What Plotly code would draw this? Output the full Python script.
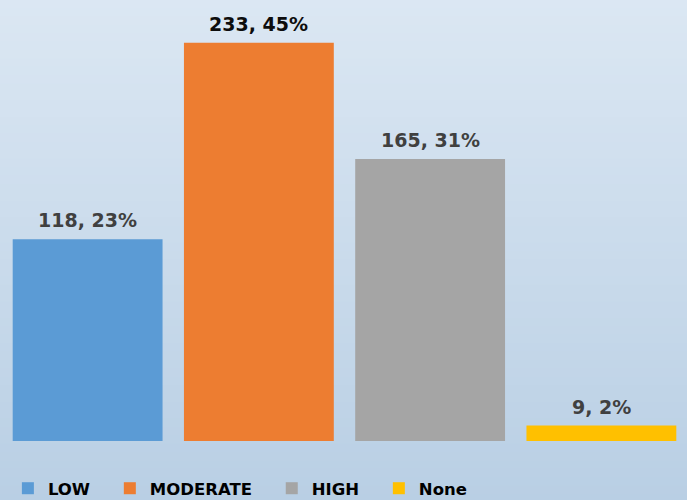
import plotly.graph_objects as go

categories = ["LOW", "MODERATE", "HIGH", "None"]
counts = [118, 233, 165, 9]
percents = [23, 45, 31, 2]
colors = ["#5b9bd5", "#ed7d31", "#a5a5a5", "#ffc000"]
label_colors = ["#404040", "#0d0d0d", "#404040", "#404040"]

PAD = "\u00a0\u00a0\u2009"
fig = go.Figure()
for i, (cat, c, p, col, lc) in enumerate(zip(categories, counts, percents, colors, label_colors)):
    pad = PAD if i < len(categories) - 1 else ""
    fig.add_trace(go.Bar(
        x=[cat], y=[c], name=cat + pad,
        marker=dict(color=col, line=dict(width=0)),
        hoverinfo="x+y",
    ))
    fig.add_annotation(
        x=cat, y=c, xref="x", yref="y",
        text=f"{c}, {p}%", showarrow=False,
        yanchor="middle", yshift=19,
        font=dict(family="DejaVu Sans", size=19, color=lc, weight="bold"),
    )

# gradient background
top = (219, 231, 243)
bot = (185, 207, 228)
n = 60
y0p, y1p = -0.14, 1.0
for i in range(n):
    t = i / (n - 1)
    r = round(top[0] + (bot[0] - top[0]) * t)
    g = round(top[1] + (bot[1] - top[1]) * t)
    b = round(top[2] + (bot[2] - top[2]) * t)
    ya = y1p - (y1p - y0p) * i / n
    yb = y1p - (y1p - y0p) * (i + 1) / n
    fig.add_shape(type="rect", xref="paper", yref="paper",
                  x0=-0.01, x1=1.01, y0=yb - 0.001, y1=ya + 0.001,
                  fillcolor=f"rgb({r},{g},{b})", line=dict(width=0), layer="below")

fig.update_layout(
    width=687, height=500,
    margin=dict(l=2, r=0, t=0, b=59, autoexpand=False),
    paper_bgcolor="rgb(185,207,228)",
    plot_bgcolor="rgba(0,0,0,0)",
    bargap=0.125,
    showlegend=True,
    legend=dict(orientation="h", x=0.0086, xanchor="left", y=-0.068, yanchor="top",
                font=dict(family="DejaVu Sans", size=16.5, color="#000000", weight="bold"),
                itemwidth=30, bgcolor="rgba(0,0,0,0)", traceorder="normal"),
    xaxis=dict(visible=False, range=[-0.5, 3.5]),
    yaxis=dict(visible=False, range=[0, 258]),
    font=dict(family="DejaVu Sans"),
)

fig.write_html("out.html", config={"displayModeBar": False},
               post_script="document.body.style.margin='0';")
